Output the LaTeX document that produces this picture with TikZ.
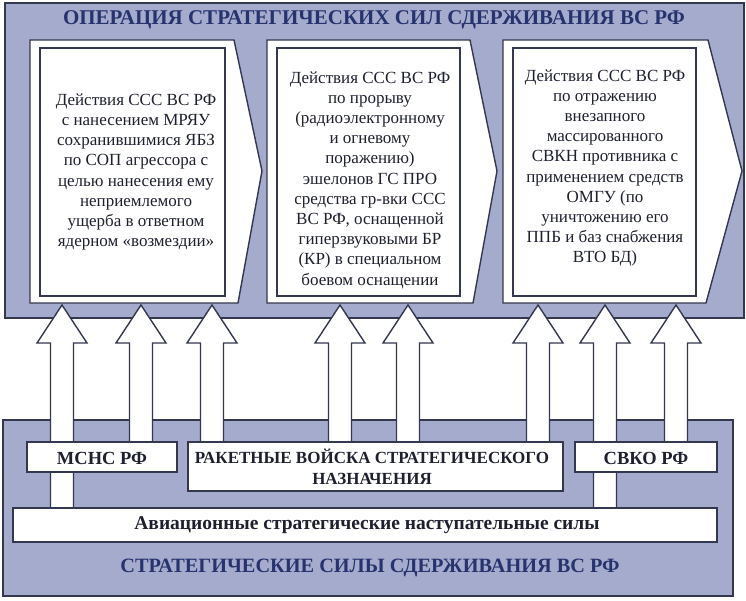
\documentclass[tikz,border=0pt]{standalone}
\usepackage{fontspec}
\setmainfont{Liberation Serif}
\begin{document}
\begin{tikzpicture}[x=1pt,y=-1pt,
  panel/.style={fill=panelc,draw=linec,line width=1.4pt},
  wbox/.style={fill=white,draw=linec,line width=1.4pt},
  body/.style={align=center,font=\fontsize{17}{20.2}\selectfont,text=textc},
  ttl/.style={font=\bfseries\fontsize{21}{24}\selectfont,text=titlec},
  lbl/.style={font=\bfseries\fontsize{19.5}{22}\selectfont,text=textc,align=center},
  slbl/.style={font=\bfseries\fontsize{17}{21}\selectfont,text=textc,align=center}]
\definecolor{panelc}{HTML}{A5ABCD}
\definecolor{linec}{HTML}{33374F}
\definecolor{textc}{HTML}{1E2030}
\definecolor{titlec}{HTML}{27336E}
\useasboundingbox (0,0) rectangle (746,600);
\fill[white] (0,0) rectangle (746,600);
% panels
\draw[panel] (5,3) rectangle (744,318);
\draw[panel] (3,420) rectangle (733,596);
\node[ttl] (t1) at (374,20) {ОПЕРАЦИЯ СТРАТЕГИЧЕСКИХ СИЛ СДЕРЖИВАНИЯ ВС РФ};
\node[ttl,font=\bfseries\fontsize{20.3}{24}\selectfont] (t2) at (370,568) {СТРАТЕГИЧЕСКИЕ СИЛЫ СДЕРЖИВАНИЯ ВС РФ};
% arrow boxes
\draw[wbox] (30,40) -- (234,40) -- (262,171) -- (238,303) -- (30,303) -- cycle;
\draw[wbox] (267,40) -- (470,40) -- (497,171) -- (473,303) -- (267,303) -- cycle;
\draw[wbox] (503,40) -- (708,40) -- (742,171) -- (706,303) -- (503,303) -- cycle;
\draw[wbox] (40,48) rectangle (225,296);
\draw[wbox] (277,48) rectangle (460,296);
\draw[wbox] (513,48) rectangle (696,296);
\node[body] (b1) at (136,172) {Действия ССС ВС РФ\\с нанесением МРЯУ\\сохранившимися ЯБЗ\\по СОП агрессора с\\целью нанесения ему\\неприемлемого\\ущерба в ответном\\ядерном «возмездии»};
\node[body] (b2) at (370,180) {Действия ССС ВС РФ\\по прорыву\\(радиоэлектронному\\и огневому\\поражению)\\эшелонов ГС ПРО\\средства гр-вки ССС\\ВС РФ, оснащенной\\гиперзвуковыми БР\\(КР) в специальном\\боевом оснащении};
\node[body] (b3) at (605,168) {Действия ССС ВС РФ\\по отражению\\внезапного\\массированного\\СВКН противника с\\применением средств\\ОМГУ (по\\уничтожению его\\ППБ и баз снабжения\\ВТО БД)};
% up arrows
\foreach \cx/\by [count=\i] in {62/508,141/442,212/442,340/442,408/442,538/442,605/508,676/442}{
  \draw[wbox] (\cx-11.5,\by) -- (\cx-11.5,343) -- (\cx-25,343) -- (\cx,305) -- (\cx+25,343) -- (\cx+11.5,343) -- (\cx+11.5,\by) -- cycle;
}
% bottom boxes
\draw[wbox] (13,508) rectangle (717,542);
\node[lbl] (av) at (367,525) {Авиационные стратегические наступательные силы};
\draw[wbox] (27,442) rectangle (177,472);
\node[slbl,font=\bfseries\fontsize{18.5}{21}\selectfont] (ms) at (102,458) {МСНС РФ};
\draw[wbox] (188,442) rectangle (563,491);
\node[slbl] (rv) at (372,467) {РАКЕТНЫЕ ВОЙСКА СТРАТЕГИЧЕСКОГО\\НАЗНАЧЕНИЯ};
\draw[wbox] (575,442) rectangle (717,472);
\node[slbl,font=\bfseries\fontsize{18.5}{21}\selectfont] (sv) at (646,458) {СВКО РФ};
\end{tikzpicture}
\end{document}
